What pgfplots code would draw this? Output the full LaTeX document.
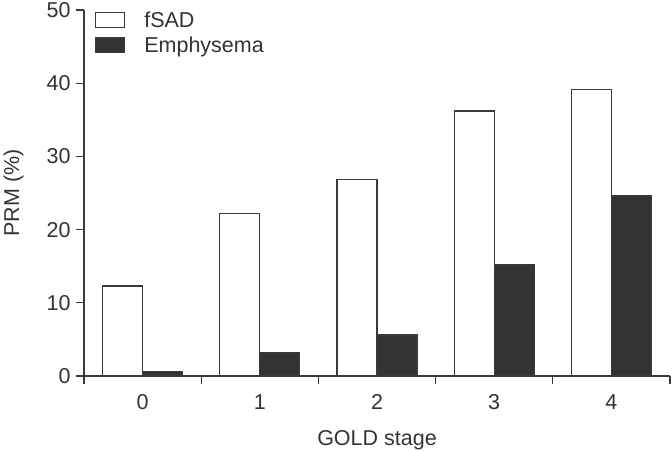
\documentclass[border=0pt]{standalone}
\usepackage{fontspec}
\setmainfont{Liberation Sans}
\usepackage{pgfplots}
\pgfplotsset{compat=1.18}
\definecolor{ink}{HTML}{333333}
\definecolor{linec}{HTML}{3A3A3A}
\definecolor{darkbar}{HTML}{333333}
\begin{document}
\begin{tikzpicture}
\begin{axis}[
  scale only axis,
  width=586pt, height=366pt,
  xmin=-0.5, xmax=4.5, ymin=0, ymax=50,
  axis x line=bottom, axis y line=left,
  axis line style={-, linec, line width=1.1pt},
  every tick/.style={linec, line width=1.1pt},
  xtick={0,1,2,3,4},
  major x tick style={draw=none},
  minor xtick={-0.5,0.5,1.5,2.5,3.5,4.5},
  minor tick length=8pt,
  ytick={0,10,20,30,40,50},
  major tick length=8pt,
  tick align=outside,
  /pgf/number format/assume math mode=true,
  tick label style={font=\fontsize{21.5}{25}\selectfont, text=ink},
  label style={font=\fontsize{21.5}{25}\selectfont, text=ink},
  xticklabel style={yshift=-7pt},
  yticklabel style={xshift=-2pt},
  xlabel={GOLD stage},
  ylabel={PRM (\%)},
  xlabel style={yshift=-14pt},
  ylabel style={yshift=16pt},
  ybar=0pt, bar width=0.341,
  legend style={draw=none, fill=none, at={(axis cs:-0.5,50)}, anchor=north west,
     xshift=8pt, yshift=2pt, font=\fontsize{21.5}{25}\selectfont, text=ink,
     row sep=4pt},
  legend cell align=left,
  legend image code/.code={\draw[#1, line width=1.1pt] (0pt,-7pt) rectangle (29pt,8pt); \path (46pt,0pt);},
]
\addplot[draw=linec, fill=white, line width=1.1pt] coordinates {(0,12.3) (1,22.2) (2,26.8) (3,36.2) (4,39.1)};
\addplot[draw=linec, fill=darkbar, line width=1.1pt] coordinates {(0,0.6) (1,3.2) (2,5.6) (3,15.2) (4,24.7)};
\legend{fSAD, Emphysema}
\coordinate (O) at (rel axis cs:0,0);
\coordinate (T) at (rel axis cs:1,1);
\end{axis}
\pgfresetboundingbox
\path[use as bounding box] ([shift={(-84pt,-74pt)}]O) rectangle ([shift={(2pt,10pt)}]T);
\end{tikzpicture}
\end{document}
